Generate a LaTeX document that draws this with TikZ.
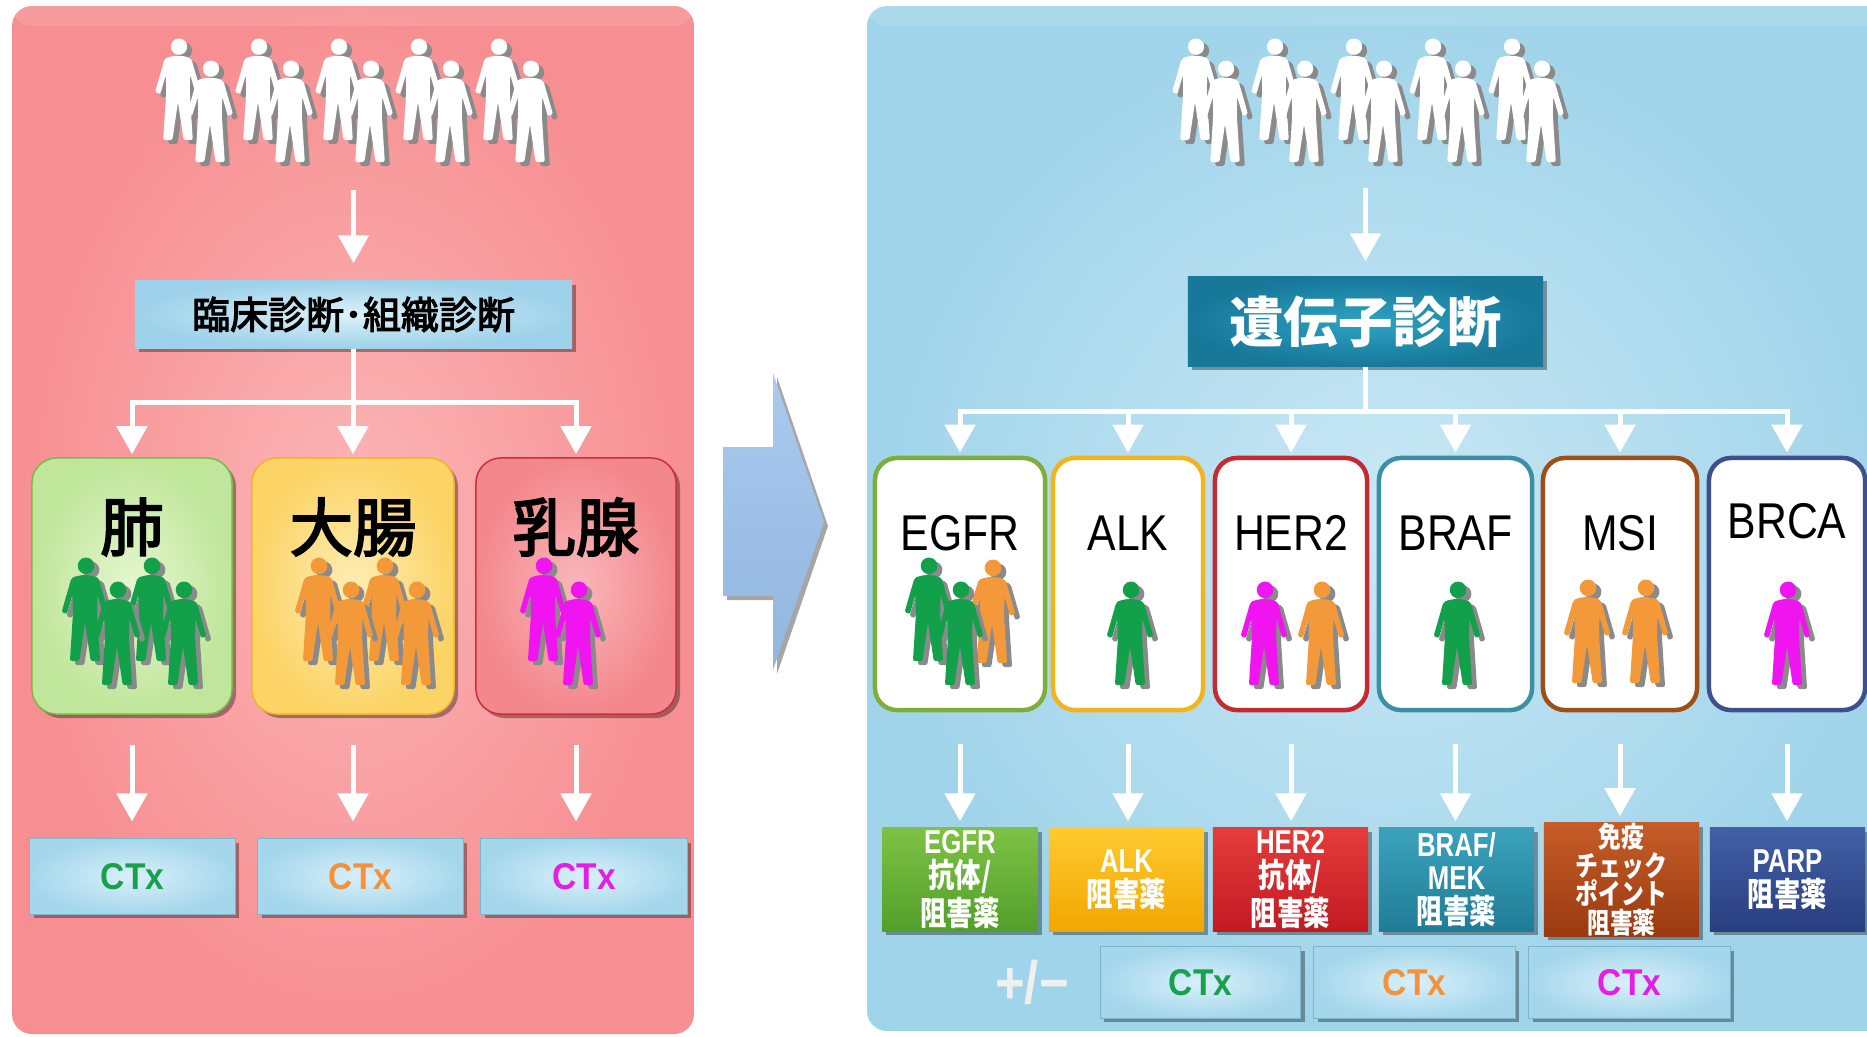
\documentclass[tikz,border=0pt]{standalone}
\usepackage{fontspec}
\usetikzlibrary{arrows.meta,shadows}
\setmainfont{Liberation Sans}
\newfontfamily\jp{Noto Sans CJK JP}
\newfontfamily\jpm[FakeBold=3]{Noto Sans CJK JP}
\newfontfamily\jpn[FakeStretch=0.8]{Noto Sans CJK JP}
\newfontfamily\narrow[FakeStretch=0.85]{Liberation Sans}
\newfontfamily\narrowb[FakeStretch=0.78]{Liberation Sans}
\newfontfamily\ctxfam[FakeStretch=0.9]{Liberation Sans}

% panel and box colours
\definecolor{pinkin}{HTML}{FBB6B7}
\definecolor{pinkout}{HTML}{F78E91}
\definecolor{bluein}{HTML}{C9E8F5}
\definecolor{blueout}{HTML}{A0D4EA}
\definecolor{dxin}{HTML}{DDF1FA}
\definecolor{dxout}{HTML}{9ED2EA}
\definecolor{genein}{HTML}{2EA3C2}
\definecolor{geneout}{HTML}{17789A}
\definecolor{arrowtop}{HTML}{AACAEE}
\definecolor{arrowbot}{HTML}{92B6E0}
\definecolor{lungin}{HTML}{E6F6CF}
\definecolor{lungout}{HTML}{BFE69A}
\definecolor{lungedge}{HTML}{7DB84A}
\definecolor{colonin}{HTML}{FEEDB5}
\definecolor{colonout}{HTML}{FCD466}
\definecolor{colonedge}{HTML}{F0B429}
\definecolor{breastin}{HTML}{FAB7BA}
\definecolor{breastout}{HTML}{F3878C}
\definecolor{breastedge}{HTML}{C8303A}
% pictogram colours
\definecolor{figgreen}{HTML}{12A04A}
\definecolor{figorange}{HTML}{F4993A}
\definecolor{figmagenta}{HTML}{F014F0}
\definecolor{figshade}{HTML}{8A8A8A}
% marker frames
\definecolor{mkegfr}{HTML}{7DAE3C}
\definecolor{mkalk}{HTML}{F2B41A}
\definecolor{mkher}{HTML}{C62A30}
\definecolor{mkbraf}{HTML}{3D8FA6}
\definecolor{mkmsi}{HTML}{9E4E16}
\definecolor{mkbrca}{HTML}{3F4F8E}
% drug boxes
\definecolor{egfrtop}{HTML}{7EC245}
\definecolor{egfrbot}{HTML}{529F2A}
\definecolor{alktop}{HTML}{FFCA30}
\definecolor{alkbot}{HTML}{F2A600}
\definecolor{hertop}{HTML}{E53C3C}
\definecolor{herbot}{HTML}{C11A22}
\definecolor{braftop}{HTML}{3CA2BC}
\definecolor{brafbot}{HTML}{1F7C96}
\definecolor{msitop}{HTML}{C65C28}
\definecolor{msibot}{HTML}{9A3A10}
\definecolor{parptop}{HTML}{4260A6}
\definecolor{parpbot}{HTML}{283E80}
% chemotherapy boxes
\definecolor{ctxin}{HTML}{D9F0FA}
\definecolor{ctxout}{HTML}{A5D7EC}
\definecolor{ctxedge}{HTML}{7DB5CC}
\definecolor{ctxgreen}{HTML}{18A04A}
\definecolor{ctxorange}{HTML}{F3923A}
\definecolor{ctxmag}{HTML}{E51EE5}

% standing person, feet at (0,0), head at height 1 (y grows downward)
\newcommand{\personshape}{%
  (0.01,-0.915) circle[radius=0.08]
  (-0.05,-0.825) -- (-0.13,-0.80) -- (-0.225,-0.47) -- (-0.175,-0.45) --
  (-0.12,-0.64) -- (-0.115,-0.47) -- (-0.145,0) -- (-0.055,0) -- (0,-0.37) --
  (0.055,0) -- (0.145,0) -- (0.115,-0.47) -- (0.12,-0.64) -- (0.175,-0.45) --
  (0.225,-0.47) -- (0.13,-0.80) -- (0.05,-0.825) -- cycle}
% #1 x, #2 y of the feet, #3 height, #4 colour
\newcommand{\pictoperson}[4]{%
  \fill[figshade, shift={(#1+5,#2+4)}, scale=#3, rounded corners=0.6pt] \personshape;
  \fill[#4, shift={(#1,#2)}, scale=#3, rounded corners=0.6pt] \personshape;}

\begin{document}
\begin{tikzpicture}[x=0.01cm, y=-0.01cm,
  softshadow/.style={drop shadow={shadow xshift=0.04cm, shadow yshift=-0.04cm, opacity=0.35, fill=black}},
  wline/.style={draw=white, line width=0.05cm},
  warrow/.style={wline, -{Triangle[width=0.3cm,length=0.28cm]}},
  dxbox/.style={rectangle, minimum width=4.37cm, minimum height=0.67cm, inner sep=0pt,
    inner color=dxin, outer color=dxout, softshadow,
    font=\jpm\fontsize{10.8pt}{12pt}\selectfont},
  genebox/.style={rectangle, minimum width=3.55cm, minimum height=0.89cm, inner sep=0pt,
    inner color=genein, outer color=geneout, softshadow, text=white,
    font=\jp\bfseries\fontsize{15.5pt}{17pt}\selectfont},
  organ/.style={rectangle, rounded corners=0.25cm, minimum height=2.56cm, inner sep=0pt,
    line width=0.015cm, softshadow},
  organlabel/.style={font=\jpm\fontsize{18pt}{20pt}\selectfont, inner sep=0pt},
  marker/.style={rectangle, rounded corners=0.22cm, minimum height=2.52cm, inner sep=0pt,
    fill=white, line width=0.045cm},
  markerlabel/.style={font=\narrow\fontsize{14.3pt}{16pt}\selectfont, inner sep=0pt},
  drug/.style={rectangle, minimum width=1.55cm, minimum height=1.03cm, inner sep=0pt,
    text=white, align=center, softshadow,
    font=\jpn\bfseries\fontsize{9.4pt}{9.5pt}\selectfont},
  ctxbox/.style={rectangle, inner sep=0pt, draw=ctxedge, line width=0.01cm,
    inner color=ctxin, outer color=ctxout, softshadow,
    font=\ctxfam\bfseries\fontsize{10.6pt}{12pt}\selectfont}]
\useasboundingbox (0,0) rectangle (1867,1036);
\clip (0,0) rectangle (1867,1036);

% ---------- panels ----------
\shade[rounded corners=0.2cm, inner color=pinkin, outer color=pinkout] (12,6) rectangle (694,1034);
\fill[white, opacity=0.12, rounded corners=0.2cm] (12,6) rectangle (694,26);
\shade[rounded corners=0.2cm, inner color=bluein, outer color=blueout] (867,6) rectangle (1900,1031);
\fill[white, opacity=0.12, rounded corners=0.2cm] (867,6) rectangle (1900,26);

% ---------- transition arrow ----------
\shade[top color=arrowtop, bottom color=arrowbot, softshadow]
  (723,447) -- (773,447) -- (773,373) -- (824,522) -- (773,670) -- (773,596) -- (723,596) -- cycle;

% ---------- left: conventional pathway ----------
\foreach \k in {0,...,4} {
  \pictoperson{178+80*\k}{140}{102}{white}
  \pictoperson{210+80*\k}{162}{102}{white}
}
\coordinate (crowdL) at (353.5,190);

\node[dxbox] (dx) at (353.5,314.5) {臨床診断･組織診断};

\node[organ, draw=lungedge, inner color=lungin, outer color=lungout, minimum width=2cm] (lung) at (132,586) {};
\node[organ, draw=colonedge, inner color=colonin, outer color=colonout, minimum width=2.02cm] (colon) at (353,586) {};
\node[organ, draw=breastedge, inner color=breastin, outer color=breastout, minimum width=2cm] (breast) at (576,586) {};

\node[organlabel] (lungT) at (132,527) {肺};
\node[organlabel] (colonT) at (353,527) {大腸};
\node[organlabel] (breastT) at (576,527) {乳腺};

\pictoperson{85}{661}{104}{figgreen}
\pictoperson{151}{661}{104}{figgreen}
\pictoperson{117}{685}{104}{figgreen}
\pictoperson{183}{685}{104}{figgreen}
\pictoperson{318}{661}{104}{figorange}
\pictoperson{384}{661}{104}{figorange}
\pictoperson{350}{685}{104}{figorange}
\pictoperson{416}{685}{104}{figorange}
\pictoperson{543}{661}{104}{figmagenta}
\pictoperson{578}{685}{104}{figmagenta}

\node[ctxbox, minimum width=2.05cm, minimum height=0.75cm] (lc1) at (132.5,876.5) {\textcolor{ctxgreen}{CTx}};
\node[ctxbox, minimum width=2.05cm, minimum height=0.75cm] (lc2) at (360.5,876.5) {\textcolor{ctxorange}{CTx}};
\node[ctxbox, minimum width=2.06cm, minimum height=0.75cm] (lc3) at (584,876.5) {\textcolor{ctxmag}{CTx}};

% connectors
\draw[warrow, shorten >=0.17cm] (crowdL) -- (dx.north);
\draw[wline] (dx.south) -- ++(0,54) coordinate (lbar);
\draw[wline, line cap=rect] (lung.north |- lbar) -- (breast.north |- lbar);
\foreach \n in {lung,colon,breast}
  \draw[warrow, shorten >=0.03cm] (\n.north |- lbar) -- (\n.north);
\draw[warrow, shorten <=0.3cm, shorten >=0.17cm] (lung.south) -- (lung.south |- lc1.north);
\draw[warrow, shorten <=0.3cm, shorten >=0.17cm] (colon.south) -- (colon.south |- lc2.north);
\draw[warrow, shorten <=0.3cm, shorten >=0.17cm] (breast.south) -- (breast.south |- lc3.north);

% ---------- right: genomic pathway ----------
\foreach \k in {0,...,4} {
  \pictoperson{1195+79*\k}{140}{102}{white}
  \pictoperson{1225+79*\k}{162}{102}{white}
}
\coordinate (crowdR) at (1365.5,188);

\node[genebox] (gene) at (1365.5,321.5) {遺伝子診断};

\node[marker, draw=mkegfr, minimum width=1.7cm] (mEGFR) at (960,584) {};
\node[marker, draw=mkalk, minimum width=1.5cm] (mALK) at (1128,584) {};
\node[marker, draw=mkher, minimum width=1.52cm] (mHER) at (1291,584) {};
\node[marker, draw=mkbraf, minimum width=1.53cm] (mBRAF) at (1455.5,584) {};
\node[marker, draw=mkmsi, minimum width=1.54cm] (mMSI) at (1620,584) {};
\node[marker, draw=mkbrca, minimum width=1.56cm] (mBRCA) at (1787,584) {};

\node[markerlabel] (tEGFR) at (960,533) {EGFR};
\node[markerlabel] (tALK) at (1128,533) {ALK};
\node[markerlabel] (tHER) at (1291,533) {HER2};
\node[markerlabel] (tBRAF) at (1455.5,533) {BRAF};
\node[markerlabel] (tMSI) at (1620,533) {MSI};
\node[markerlabel] (tBRCA) at (1787,521) {BRCA};

\pictoperson{928}{661}{104}{figgreen}
\pictoperson{992}{663}{104}{figorange}
\pictoperson{960}{685}{104}{figgreen}
\pictoperson{1130}{685}{104}{figgreen}
\pictoperson{1264}{685}{104}{figmagenta}
\pictoperson{1321}{685}{104}{figorange}
\pictoperson{1457}{685}{104}{figgreen}
\pictoperson{1587}{683}{104}{figorange}
\pictoperson{1645}{683}{104}{figorange}
\pictoperson{1787}{685}{104}{figmagenta}

\node[drug, top color=egfrtop, bottom color=egfrbot] (dEGFR) at (960,879.5)
  {{\narrowb EGFR}\\抗体/\\阻害薬};
\node[drug, top color=alktop, bottom color=alkbot] (dALK) at (1126.5,879.5)
  {{\narrowb ALK}\\阻害薬};
\node[drug, top color=hertop, bottom color=herbot] (dHER) at (1290.5,879.5)
  {{\narrowb HER2}\\抗体/\\阻害薬};
\node[drug, top color=braftop, bottom color=brafbot] (dBRAF) at (1456.5,879.5)
  {{\narrowb BRAF/}\\{\narrowb MEK}\\阻害薬};
\node[drug, top color=msitop, bottom color=msibot,
  font=\jpn\bfseries\fontsize{8.1pt}{8.15pt}\selectfont] (dMSI) at (1621.5,879.5)
  {免疫\\チェック\\ポイント\\阻害薬};
\node[drug, top color=parptop, bottom color=parpbot] (dPARP) at (1787.5,879.5)
  {{\narrowb PARP}\\阻害薬};

\node[ctxbox, minimum width=2.0cm, minimum height=0.71cm] (rc1) at (1200.5,982.5) {\textcolor{ctxgreen}{CTx}};
\node[ctxbox, minimum width=2.01cm, minimum height=0.71cm] (rc2) at (1414.5,982.5) {\textcolor{ctxorange}{CTx}};
\node[ctxbox, minimum width=2.01cm, minimum height=0.71cm] (rc3) at (1629.5,982.5) {\textcolor{ctxmag}{CTx}};
\node[text=white!94!black, font=\narrow\bfseries\fontsize{17pt}{19pt}\selectfont, inner sep=0pt] (pm) at (1032,982) {+/−};

% connectors
\draw[warrow, shorten >=0.15cm] (crowdR) -- (gene.north);
\draw[wline] (gene.south) -- ++(0,45) coordinate (rbar);
\draw[wline, line cap=rect] (mEGFR.north |- rbar) -- (mBRCA.north |- rbar);
\foreach \n in {mEGFR,mALK,mHER,mBRAF,mMSI,mBRCA}
  \draw[warrow, shorten >=0.03cm] (\n.north |- rbar) -- (\n.north);
\draw[warrow, shorten <=0.32cm, shorten >=0.06cm] (mEGFR.south) -- (mEGFR.south |- dEGFR.north);
\draw[warrow, shorten <=0.32cm, shorten >=0.06cm] (mALK.south) -- (mALK.south |- dALK.north);
\draw[warrow, shorten <=0.32cm, shorten >=0.06cm] (mHER.south) -- (mHER.south |- dHER.north);
\draw[warrow, shorten <=0.32cm, shorten >=0.06cm] (mBRAF.south) -- (mBRAF.south |- dBRAF.north);
\draw[warrow, shorten <=0.32cm, shorten >=0.06cm] (mMSI.south) -- (mMSI.south |- dMSI.north);
\draw[warrow, shorten <=0.32cm, shorten >=0.06cm] (mBRCA.south) -- (mBRCA.south |- dPARP.north);
\end{tikzpicture}
\end{document}
